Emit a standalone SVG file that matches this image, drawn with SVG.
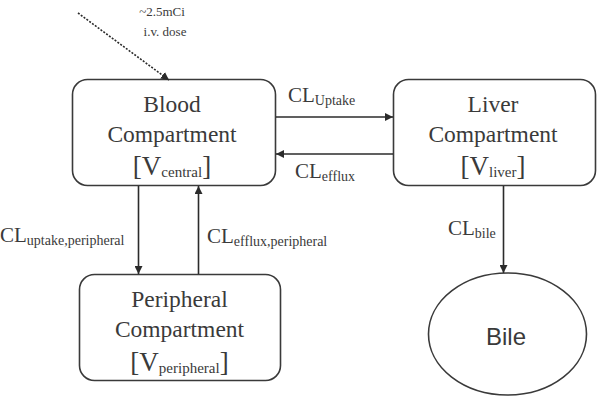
<svg xmlns="http://www.w3.org/2000/svg" width="600" height="402" viewBox="0 0 600 402">
<defs>
<marker id="ah" viewBox="0 0 10 10" refX="10" refY="5" markerWidth="8" markerHeight="8" markerUnits="userSpaceOnUse" orient="auto">
<path d="M0,0 L10,5 L0,10 z" fill="#2b2b2b"/>
</marker>
<style>
.box{fill:#fff;stroke:#3a3a3a;stroke-width:1.6}
.ln{stroke:#2b2b2b;stroke-width:1.6;fill:none}
.t{font-family:"Liberation Serif","Times New Roman",serif;fill:#3a3a3a}
.big{font-size:23.5px}
.cl{font-size:21px}
.sub{font-size:14px}
.s{font-family:"Liberation Sans",Arial,sans-serif;fill:#3a3a3a}
</style>
</defs>
<rect width="600" height="402" fill="#fff"/>
<g id="dose">
<text class="t" x="162" y="16" font-size="13" text-anchor="middle">~2.5mCi</text>
<text class="t" x="165" y="35.5" font-size="13" text-anchor="middle">i.v. dose</text>
</g>
<g id="blood">
<rect class="box" x="72.5" y="79.5" width="203" height="106" rx="15"/>
<text class="t big" x="172" y="111.5" text-anchor="middle">Blood</text>
<text class="t big" x="172" y="141.5" text-anchor="middle">Compartment</text>
<text class="t" x="172" y="175" text-anchor="middle"><tspan font-size="27">[V</tspan><tspan font-size="15" dy="2">central</tspan><tspan font-size="27" dy="-2">]</tspan></text>
</g>
<g id="liver">
<rect class="box" x="393.5" y="79.5" width="202" height="106" rx="15"/>
<text class="t big" x="493" y="111.5" text-anchor="middle">Liver</text>
<text class="t big" x="493" y="141.5" text-anchor="middle">Compartment</text>
<text class="t" x="493" y="175" text-anchor="middle"><tspan font-size="27">[V</tspan><tspan font-size="15" dy="2">liver</tspan><tspan font-size="27" dy="-2">]</tspan></text>
</g>
<g id="peripheral">
<rect class="box" x="79.5" y="274.5" width="201" height="106" rx="15"/>
<text class="t big" x="179.5" y="306.5" text-anchor="middle">Peripheral</text>
<text class="t big" x="179.5" y="336.5" text-anchor="middle">Compartment</text>
<text class="t" x="179.5" y="370.5" text-anchor="middle"><tspan font-size="27">[V</tspan><tspan font-size="15" dy="2">peripheral</tspan><tspan font-size="27" dy="-2">]</tspan></text>
</g>
<g id="bile">
<ellipse class="box" cx="507.5" cy="334" rx="79" ry="61"/>
<text class="s" x="506" y="345" font-size="24" text-anchor="middle">Bile</text>
</g>
<g id="connectors">
<line class="ln" x1="78" y1="13" x2="169" y2="80" stroke-dasharray="2,1.5" stroke-width="1.3" marker-end="url(#ah)"/>
<line class="ln" x1="276" y1="117" x2="393" y2="117" marker-end="url(#ah)"/>
<line class="ln" x1="393" y1="154" x2="276" y2="154" marker-end="url(#ah)"/>
<line class="ln" x1="138.5" y1="186" x2="138.5" y2="274" marker-end="url(#ah)"/>
<line class="ln" x1="198.5" y1="274" x2="198.5" y2="186" marker-end="url(#ah)"/>
<line class="ln" x1="503.5" y1="186" x2="503.5" y2="273" marker-end="url(#ah)"/>
<text class="t cl" x="288" y="101.5">CL<tspan class="sub" dy="3">Uptake</tspan></text>
<text class="t cl" x="295" y="178">CL<tspan class="sub" dy="3">efflux</tspan></text>
<text class="t cl" x="0" y="241.5">CL<tspan class="sub" dy="3">uptake,peripheral</tspan></text>
<text class="t cl" x="207" y="243">CL<tspan class="sub" dy="3">efflux,peripheral</tspan></text>
<text class="t cl" x="448" y="235">CL<tspan class="sub" dy="3">bile</tspan></text>
</g>
</svg>
